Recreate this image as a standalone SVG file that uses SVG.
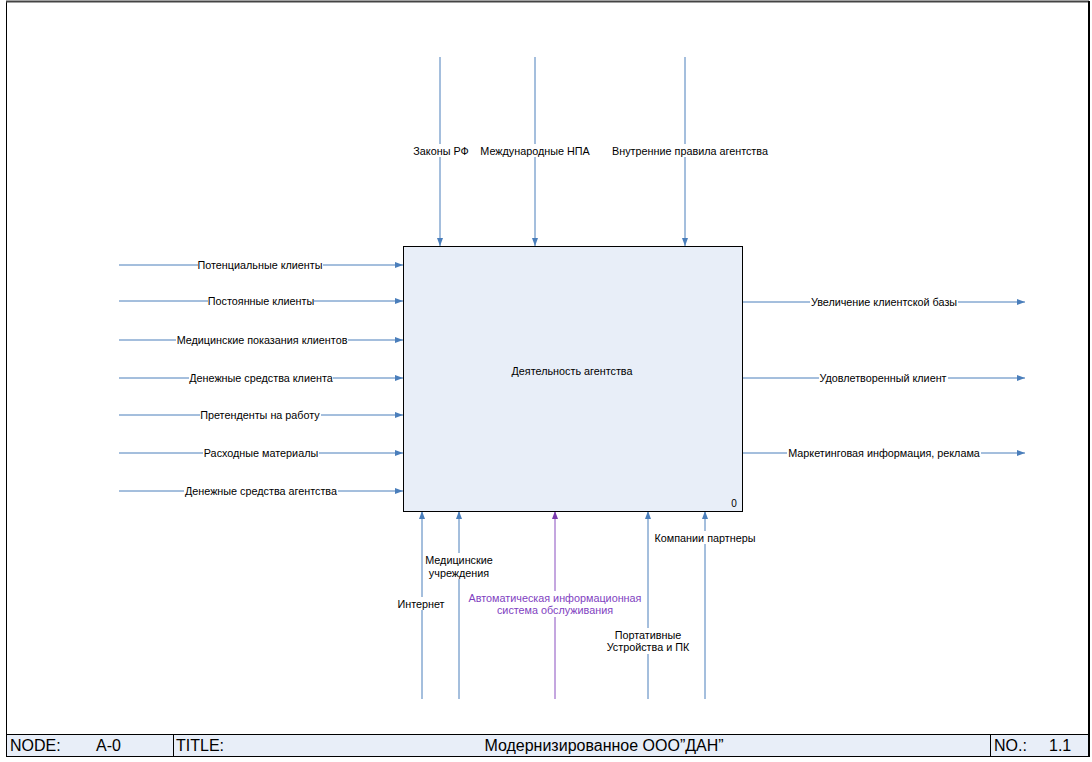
<svg xmlns="http://www.w3.org/2000/svg" width="1092" height="762" viewBox="0 0 1092 762">
<defs>
<marker id="ab" viewBox="0 0 8 6" refX="8" refY="3" markerWidth="8" markerHeight="6" markerUnits="userSpaceOnUse" orient="auto"><path d="M0,0 L8,3 L0,6 Z" fill="#4A7EBB"/></marker>
<marker id="ap" viewBox="0 0 8 6" refX="8" refY="3" markerWidth="8" markerHeight="6" markerUnits="userSpaceOnUse" orient="auto"><path d="M0,0 L8,3 L0,6 Z" fill="#7A3AAE"/></marker>
</defs>
<style>
.ln{stroke:#4A7EBB;stroke-width:1;fill:none;marker-end:url(#ab)}
.lp{stroke:#8A4FC0;stroke-width:1;fill:none;marker-end:url(#ap)}
.t{font-family:"Liberation Sans",Arial,sans-serif;font-size:10.8px;fill:#000;text-anchor:middle}
.tp{font-family:"Liberation Sans",Arial,sans-serif;font-size:10.8px;fill:#7F3FBF;text-anchor:middle}
.bg{fill:#fff}
.ft{font-family:"Liberation Sans",Arial,sans-serif;font-size:16px;fill:#000}
</style>
<rect x="0" y="0" width="1092" height="762" fill="#fff"/>
<rect x="6.5" y="1.5" width="1082" height="755" fill="none" stroke="#000" stroke-width="1"/>
<line x1="6" y1="1.5" x2="1089" y2="1.5" stroke="#444" stroke-width="2"/>
<line x1="1089" y1="1" x2="1089" y2="757" stroke="#000" stroke-width="2"/>
<g id="footer">
<rect x="6.5" y="734.5" width="1082" height="22" fill="#E8EEF8" stroke="#000" stroke-width="1"/>
<line x1="173.5" y1="734.5" x2="173.5" y2="756.5" stroke="#000"/>
<line x1="990.5" y1="734.5" x2="990.5" y2="756.5" stroke="#000"/>
<text class="ft" x="10" y="751">NODE:</text>
<text class="ft" x="96" y="751">A-0</text>
<text class="ft" x="176" y="751">TITLE:</text>
<text class="ft" x="604" y="751" text-anchor="middle">Модернизированное ООО”ДАН”</text>
<text class="ft" x="994" y="751">NO.:</text>
<text class="ft" x="1049" y="751">1.1</text>
</g>
<g id="connectors">
<line class="ln" x1="440" y1="57" x2="440" y2="246"/>
<line class="ln" x1="535" y1="57" x2="535" y2="246"/>
<line class="ln" x1="685" y1="57" x2="685" y2="246"/>
<line class="ln" x1="119" y1="265" x2="403" y2="265"/>
<line class="ln" x1="119" y1="301" x2="403" y2="301"/>
<line class="ln" x1="119" y1="340" x2="403" y2="340"/>
<line class="ln" x1="119" y1="378" x2="403" y2="378"/>
<line class="ln" x1="119" y1="415" x2="403" y2="415"/>
<line class="ln" x1="119" y1="453" x2="403" y2="453"/>
<line class="ln" x1="119" y1="491" x2="403" y2="491"/>
<line class="ln" x1="742" y1="302" x2="1025" y2="302"/>
<line class="ln" x1="742" y1="378" x2="1025" y2="378"/>
<line class="ln" x1="742" y1="453" x2="1025" y2="453"/>
<line class="ln" x1="422" y1="699" x2="422" y2="511"/>
<line class="ln" x1="459" y1="699" x2="459" y2="511"/>
<line class="lp" x1="555" y1="699" x2="555" y2="511"/>
<line class="ln" x1="648" y1="699" x2="648" y2="511"/>
<line class="ln" x1="705" y1="699" x2="705" y2="511"/>
</g>
<g id="labels">
<rect class="bg" x="412" y="144" width="58" height="13"/><text class="t" x="441" y="155">Законы РФ</text>
<rect class="bg" x="480" y="144" width="111" height="13"/><text class="t" x="535" y="155">Международные НПА</text>
<rect class="bg" x="612" y="144" width="156" height="13"/><text class="t" x="690" y="155">Внутренние правила агентства</text>
<rect class="bg" x="198" y="258" width="125" height="13"/><text class="t" x="260" y="269">Потенциальные клиенты</text>
<rect class="bg" x="208" y="294" width="106" height="13"/><text class="t" x="261" y="305">Постоянные клиенты</text>
<rect class="bg" x="176" y="333" width="172" height="13"/><text class="t" x="262" y="344">Медицинские показания клиентов</text>
<rect class="bg" x="189" y="371" width="144" height="13"/><text class="t" x="261" y="382">Денежные средства клиента</text>
<rect class="bg" x="200" y="408" width="121" height="13"/><text class="t" x="260" y="419">Претенденты на работу</text>
<rect class="bg" x="203" y="446" width="116" height="13"/><text class="t" x="261" y="457">Расходные материалы</text>
<rect class="bg" x="184" y="484" width="154" height="13"/><text class="t" x="261" y="495">Денежные средства агентства</text>
<rect class="bg" x="810" y="295" width="148" height="13"/><text class="t" x="884" y="306">Увеличение клиентской базы</text>
<rect class="bg" x="819" y="371" width="129" height="13"/><text class="t" x="883" y="382">Удовлетворенный клиент</text>
<rect class="bg" x="787" y="446" width="194" height="13"/><text class="t" x="884" y="457">Маркетинговая информация, реклама</text>
<rect class="bg" x="397" y="597" width="50" height="13"/><text class="t" x="421" y="608">Интернет</text>
<rect class="bg" x="424" y="553" width="70" height="26"/><text class="t" x="459" y="564">Медицинские</text><text class="t" x="459" y="577">учреждения</text>
<rect class="bg" x="469" y="591" width="172" height="26"/><text class="tp" x="555" y="602">Автоматическая информационная</text><text class="tp" x="555" y="614">система обслуживания</text>
<rect class="bg" x="606" y="628" width="84" height="26"/><text class="t" x="648" y="639">Портативные</text><text class="t" x="648" y="651">Устройства и ПК</text>
<rect class="bg" x="654" y="531" width="102" height="13"/><text class="t" x="705" y="542">Компании партнеры</text>
</g>
<g id="node-A0">
<rect x="403.5" y="246.5" width="339" height="265" fill="#E8EEF8" stroke="#000" stroke-width="1"/>
<text class="t" x="572" y="375">Деятельность агентства</text>
<text class="t" x="734" y="507" style="font-size:10px">0</text>
</g>
</svg>
